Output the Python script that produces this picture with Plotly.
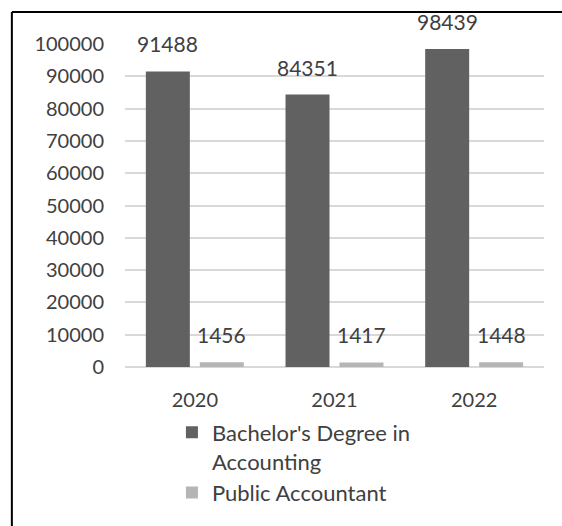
import plotly.graph_objects as go

years = ["2020", "2021", "2022"]
bachelor = [91488, 84351, 98439]
cpa = [1456, 1417, 1448]
series_names = ["Bachelor's Degree in<br>Accounting", "Public Accountant"]
y_ticks = list(range(0, 100001, 10000))

FONT = "Lato"
TXT = "#404040"

fig = go.Figure()
fig.add_trace(go.Bar(x=years, y=bachelor, name=series_names[0],
                     marker=dict(color="#616161", line=dict(width=0))))
fig.add_trace(go.Bar(x=years, y=cpa, name=series_names[1],
                     marker=dict(color="#b5b5b5", line=dict(width=0))))

annotations = []
for vals, shift in ((bachelor, -27), (cpa, 27)):
    for i, v in enumerate(vals):
        annotations.append(dict(x=i, y=v, xref="x", yref="y", text=str(v),
                                showarrow=False, xanchor="center", yanchor="bottom",
                                xshift=shift, yshift=13,
                                font=dict(family=FONT, size=21, color=TXT)))

fig.update_layout(
    width=562, height=526,
    margin=dict(l=125, r=18, t=44, b=159),
    paper_bgcolor="white", plot_bgcolor="white",
    barmode="group", bargap=0.227, bargroupgap=0.185,
    font=dict(family=FONT, size=20, color=TXT),
    annotations=annotations,
    showlegend=True,
    legend=dict(orientation="v", x=0.112, xanchor="left", y=-0.138, yanchor="top",
                font=dict(family=FONT, size=22, color=TXT), valign="top",
                itemsizing="constant", tracegroupgap=0),
    shapes=[
        dict(type="line", xref="paper", yref="paper", x0=-0.27, x1=1.2, y0=1.099, y1=1.099,
             line=dict(color="black", width=2), layer="above"),
        dict(type="line", xref="paper", yref="paper", x0=-0.27, x1=-0.27, y0=1.099, y1=-0.6,
             line=dict(color="black", width=2), layer="above"),
    ],
)
fig.update_xaxes(type="category", range=[-0.5, 2.5], showgrid=False, showline=False, ticks="",
                 ticklabelstandoff=19,
                 tickfont=dict(family=FONT, size=20, color=TXT))
fig.update_yaxes(range=[0, 100000], tickvals=y_ticks, ticktext=[str(t) for t in y_ticks],
                 showgrid=True, gridcolor="#d9d9d9", gridwidth=1.5,
                 zeroline=True, zerolinecolor="#d9d9d9", zerolinewidth=1.5,
                 showline=False, ticks="", ticklabelstandoff=20,
                 tickfont=dict(family=FONT, size=20, color=TXT))

fig.write_html("out.html")
